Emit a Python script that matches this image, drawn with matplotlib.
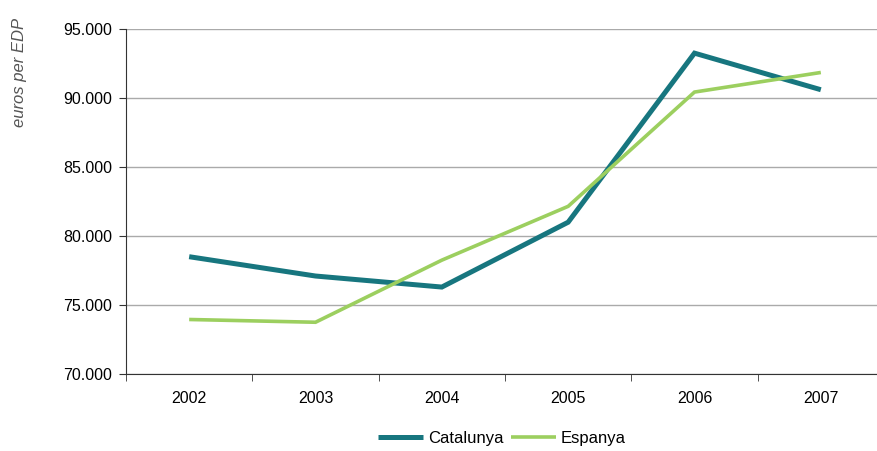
import matplotlib
matplotlib.use("Agg")
import matplotlib.pyplot as plt
from matplotlib.ticker import FuncFormatter

plt.rcParams['font.family'] = ['Liberation Sans', 'DejaVu Sans']

years = ['2002', '2003', '2004', '2005', '2006', '2007']
catalunya = [78500, 77100, 76300, 81000, 93250, 90600]
espanya = [73950, 73750, 78250, 82150, 90430, 91850]

fig = plt.figure(figsize=(8.77, 4.51), dpi=100)
ax = fig.add_axes([126/877, 1-374/451, (884-126)/877, (374-29)/451])

x = list(range(len(years)))
ax.plot(x, catalunya, color='#17767f', lw=3.6, label='Catalunya', solid_capstyle='butt', solid_joinstyle='miter')
ax.plot(x, espanya, color='#9ccf5f', lw=2.6, label='Espanya', solid_capstyle='butt', solid_joinstyle='miter')

ax.set_xlim(-0.5, len(years) - 0.5)
ax.set_ylim(70000, 95000)
ax.set_yticks(range(70000, 95001, 5000))
ax.yaxis.set_major_formatter(FuncFormatter(lambda v, p: f"{int(v):,}".replace(',', '.')))
ax.set_xticks(x)
ax.set_xticklabels(years)
ax.set_xticks([i - 0.5 for i in range(len(years) + 1)], minor=True)
ax.tick_params(axis='x', which='major', length=0, pad=12, labelsize=11.5)
ax.tick_params(axis='x', which='minor', length=5, color='#333333')
ax.tick_params(axis='y', length=5, labelsize=11.5, color='#333333', pad=5)
ax.grid(axis='y', color='#aaaaaa', lw=1)
ax.set_axisbelow(True)
for s in ['top', 'right']:
    ax.spines[s].set_visible(False)
ax.spines['left'].set_color('#333333')
ax.spines['bottom'].set_color('#333333')

fig.text(20/877, 1-72/451, 'euros per EDP', rotation=90, style='italic', fontsize=12,
         color='#555555', ha='center', va='center')

leg = fig.legend(loc='center', bbox_to_anchor=(502/877, 1-438/451), ncol=2, frameon=False,
                 fontsize=12, handlelength=2.7, handletextpad=0.3, columnspacing=0.4)

fig.savefig('out.png', dpi=100)
